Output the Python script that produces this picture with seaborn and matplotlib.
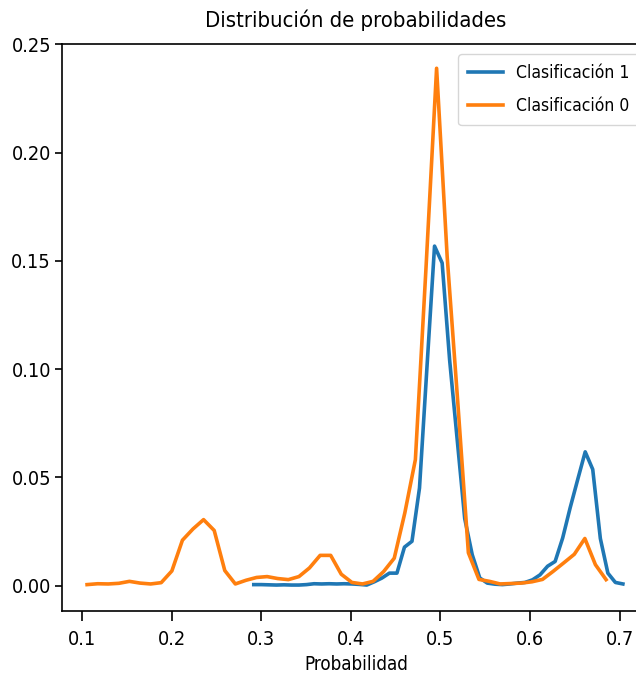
import numpy as np
import pandas as pd
import matplotlib
matplotlib.use("Agg")
import matplotlib.pyplot as plt
import seaborn as sns

# ---- data ----
x_clase1 = [0.2915, 0.2999, 0.3083, 0.3167, 0.3252, 0.3336, 0.3420, 0.3504,
            0.3588, 0.3672, 0.3756, 0.3841, 0.3925, 0.4009, 0.4093, 0.4177,
            0.4261, 0.4345, 0.4430, 0.4514, 0.4598, 0.4682, 0.4766, 0.4850,
            0.4934, 0.5019, 0.5103, 0.5187, 0.5271, 0.5355, 0.5439, 0.5523,
            0.5608, 0.5692, 0.5776, 0.5860, 0.5944, 0.6028, 0.6112, 0.6197,
            0.6281, 0.6365, 0.6449, 0.6533, 0.6617, 0.6701, 0.6786, 0.6870,
            0.6954, 0.7038]
p_clase1 = [0.0005, 0.0005, 0.0004, 0.0003, 0.0004, 0.0003, 0.0003, 0.0005,
            0.0009, 0.0008, 0.0009, 0.0008, 0.0009, 0.0008, 0.0006, 0.0003,
            0.0018, 0.0035, 0.0058, 0.0058, 0.0178, 0.0205, 0.0451, 0.1013,
            0.1568, 0.1490, 0.1040, 0.0675, 0.0310, 0.0143, 0.0036, 0.0012,
            0.0007, 0.0005, 0.0008, 0.0012, 0.0015, 0.0027, 0.0050, 0.0090,
            0.0112, 0.0220, 0.0360, 0.0490, 0.0618, 0.0537, 0.0218, 0.0058,
            0.0015, 0.0008]

x_clase0 = [0.1053, 0.1171, 0.1290, 0.1408, 0.1526, 0.1645, 0.1763, 0.1881,
            0.2000, 0.2118, 0.2236, 0.2354, 0.2473, 0.2591, 0.2709, 0.2828,
            0.2946, 0.3064, 0.3182, 0.3301, 0.3419, 0.3537, 0.3656, 0.3774,
            0.3892, 0.4011, 0.4129, 0.4247, 0.4365, 0.4484, 0.4602, 0.4720,
            0.4839, 0.4957, 0.5075, 0.5193, 0.5312, 0.5430, 0.5548, 0.5667,
            0.5785, 0.5903, 0.6022, 0.6140, 0.6258, 0.6376, 0.6495, 0.6613,
            0.6731, 0.6850]
p_clase0 = [0.0005, 0.0009, 0.0008, 0.0011, 0.0020, 0.0012, 0.0008, 0.0014,
            0.0068, 0.0210, 0.0262, 0.0305, 0.0255, 0.0070, 0.0008, 0.0025,
            0.0038, 0.0042, 0.0033, 0.0028, 0.0042, 0.0082, 0.0140, 0.0140,
            0.0053, 0.0015, 0.0008, 0.0020, 0.0065, 0.0127, 0.0336, 0.0582,
            0.1470, 0.2389, 0.1520, 0.0850, 0.0152, 0.0029, 0.0020, 0.0008,
            0.0010, 0.0012, 0.0018, 0.0029, 0.0066, 0.0105, 0.0145, 0.0218,
            0.0097, 0.0028]

series_labels = ["Clasificación 1", "Clasificación 0"]
series_colors = ["#1f77b4", "#ff7f0e"]
x_ticks = [0.1, 0.2, 0.3, 0.4, 0.5, 0.6, 0.7]
y_ticks = [0.00, 0.05, 0.10, 0.15, 0.20, 0.25]

plt.rcParams["font.family"] = ["DejaVu Sans"]
plt.rcParams["font.stretch"] = "condensed"

df1 = pd.DataFrame({"Probabilidad": x_clase1, "p": p_clase1})
df0 = pd.DataFrame({"Probabilidad": x_clase0, "p": p_clase0})

fig = plt.figure(figsize=(6.36, 6.79), dpi=100)
ax = fig.add_axes([0.0975, 0.1001, 0.924, 0.8357])

sns.lineplot(data=df1, x="Probabilidad", y="p", ax=ax, color=series_colors[0],
             linewidth=2.6, label=series_labels[0])
sns.lineplot(data=df0, x="Probabilidad", y="p", ax=ax, color=series_colors[1],
             linewidth=2.6, label=series_labels[1])

ax.set_xlim(0.0773, 0.7337)
ax.set_ylim(-0.0117, 0.2503)
ax.set_xticks(x_ticks)
ax.set_xticklabels([f"{t:.1f}" for t in x_ticks])
ax.set_yticks(y_ticks)
ax.set_yticklabels([f"{t:.2f}" for t in y_ticks])
ax.tick_params(axis="x", labelsize=14.3, length=7, width=1.2, pad=7)
ax.tick_params(axis="y", labelsize=14.3, length=5, width=1.2, pad=3)
for s in ax.spines.values():
    s.set_linewidth(1.2)

ax.set_xlabel("Probabilidad", fontsize=13.5, labelpad=4)
ax.set_ylabel("")
ax.set_title("Distribución de probabilidades", fontsize=15.8, pad=12)
ax.legend(loc="upper right", fontsize=12.6, handlelength=2.0,
          labelspacing=0.9, borderpad=0.55, handletextpad=0.75,
          borderaxespad=0.6)

fig.savefig("out.png", dpi=100)
